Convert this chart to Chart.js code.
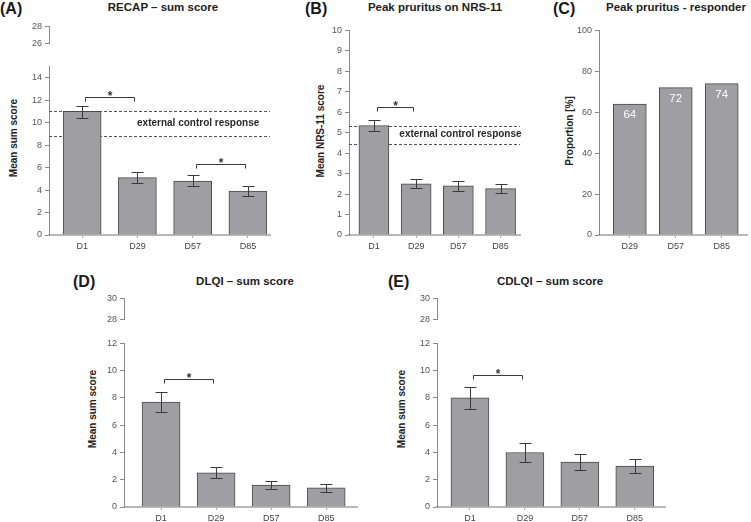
<!DOCTYPE html>
<html>
<head>
<meta charset="utf-8">
<script src="https://cdn.jsdelivr.net/npm/chart.js@4"></script>
<style>
  body { margin: 0; background: #fff; font-family: "Liberation Sans", Arial, sans-serif; }
  #page { position: relative; width: 751px; height: 522px; overflow: hidden; }
  canvas { position: absolute; }
  .tag { position: absolute; font-weight: bold; font-size: 16px; line-height: 18px; color: #1a1a1a; }
  .head { position: absolute; font-weight: bold; font-size: 11.5px; line-height: 14px; color: #222; white-space: nowrap; transform: translateX(-50%); }
  .ytitle { position: absolute; font-weight: bold; font-size: 10px; line-height: 12px; color: #222; white-space: nowrap; transform: translate(-50%, -50%) rotate(-90deg); }
</style>
</head>
<body>
<div id="page">
  <div class="tag" style="left:0px; top:0px">(A)</div>
  <div class="head" style="left:163px; top:0px">RECAP –  sum score</div>
  <div class="ytitle" style="left:14px; top:138px">Mean sum score</div>
  <canvas id="recapTop" width="60" height="34" style="left:0px; top:18px"></canvas>
  <canvas id="recap" width="274" height="197" style="left:0px; top:58px"></canvas>

  <div class="tag" style="left:305px; top:0px">(B)</div>
  <div class="head" style="left:435px; top:0px">Peak pruritus on NRS-11</div>
  <div class="ytitle" style="left:321px; top:131px">Mean NRS-11 score</div>
  <canvas id="nrs" width="224" height="233" style="left:300px; top:22px"></canvas>

  <div class="tag" style="left:553px; top:0px">(C)</div>
  <div class="head" style="left:676px; top:0px">Peak pruritus - responder</div>
  <div class="ytitle" style="left:570px; top:131px">Proportion [%]</div>
  <canvas id="resp" width="201" height="233" style="left:550px; top:22px"></canvas>

  <div class="tag" style="left:73px; top:273px">(D)</div>
  <div class="head" style="left:245px; top:274px">DLQI – sum score</div>
  <div class="ytitle" style="left:93px; top:409px">Mean sum score</div>
  <canvas id="dlqiTop" width="60" height="38" style="left:75px; top:290px"></canvas>
  <canvas id="dlqi" width="286" height="192" style="left:75px; top:335px"></canvas>

  <div class="tag" style="left:388px; top:273px">(E)</div>
  <div class="head" style="left:550px; top:274px">CDLQI – sum score</div>
  <div class="ytitle" style="left:402px; top:409px">Mean sum score</div>
  <canvas id="cdlqiTop" width="60" height="38" style="left:388px; top:290px"></canvas>
  <canvas id="cdlqi" width="281" height="192" style="left:388px; top:335px"></canvas>
</div>
<script>
// visits
const days = ["D1", "D29", "D57", "D85"];
const responderDays = ["D29", "D57", "D85"];

// (A) RECAP sum score, mean with error range
const recapMean = [11.0, 5.1, 4.8, 3.9];
const recapLow = [10.4, 4.6, 4.35, 3.5];
const recapHigh = [11.5, 5.6, 5.3, 4.35];
const recapControl = [8.8, 11.0];
const recapSig = [[0, 1, 12.3], [2, 3, 6.3]];

// (B) peak pruritus NRS-11
const nrsMean = [5.35, 2.5, 2.4, 2.27];
const nrsLow = [5.1, 2.28, 2.15, 2.05];
const nrsHigh = [5.6, 2.72, 2.65, 2.5];
const nrsControl = [4.45, 5.35];
const nrsSig = [[0, 1, 6.25]];

// (C) responder proportion [%]
const responderPct = [64, 72, 74];

// (D) DLQI
const dlqiMean = [7.7, 2.5, 1.6, 1.4];
const dlqiLow = [7.0, 2.1, 1.3, 1.1];
const dlqiHigh = [8.4, 2.9, 1.9, 1.7];
const dlqiSig = [[0, 1, 9.4]];

// (E) CDLQI
const cdlqiMean = [8.0, 4.0, 3.3, 3.0];
const cdlqiLow = [7.2, 3.3, 2.7, 2.5];
const cdlqiHigh = [8.8, 4.7, 3.9, 3.5];
const cdlqiSig = [[0, 1, 9.7]];

const noteText = "external control response";

Chart.defaults.font.family = "'Liberation Sans', Arial, sans-serif";
Chart.defaults.animation = false;

// error bars, brackets, dashed control lines, notes
const extras = {
  id: "extras",
  beforeDatasetsDraw(chart, args, o) {
    if (!o.control) return;
    const { ctx, chartArea: a } = chart;
    const y = chart.scales.y;
    ctx.save();
    ctx.strokeStyle = "#555";
    ctx.lineWidth = 1;
    ctx.setLineDash([3, 2]);
    o.control.forEach(v => {
      const py = Math.round(y.getPixelForValue(v)) + 0.5;
      ctx.beginPath();
      ctx.moveTo(a.left, py);
      ctx.lineTo(a.right, py);
      ctx.stroke();
    });
    ctx.restore();
  },
  afterDatasetsDraw(chart, args, o) {
    const { ctx } = chart;
    const x = chart.scales.x, y = chart.scales.y;
    ctx.save();
    ctx.strokeStyle = "#3a3a3a";
    ctx.lineWidth = 1;
    if (o.low) {
      o.low.forEach((lo, i) => {
        const px = Math.round(x.getPixelForValue(i)) + 0.5;
        const y1 = Math.round(y.getPixelForValue(lo)) + 0.5;
        const y2 = Math.round(y.getPixelForValue(o.high[i])) + 0.5;
        ctx.beginPath();
        ctx.moveTo(px, y1); ctx.lineTo(px, y2);
        ctx.moveTo(px - 6, y1); ctx.lineTo(px + 6, y1);
        ctx.moveTo(px - 6, y2); ctx.lineTo(px + 6, y2);
        ctx.stroke();
      });
    }
    (o.sig || []).forEach(([from, to, v]) => {
      const x1 = Math.round(x.getPixelForValue(from)) + 3.5;
      const x2 = Math.round(x.getPixelForValue(to)) - 2.5;
      const py = Math.round(y.getPixelForValue(v)) + 0.5;
      ctx.beginPath();
      ctx.moveTo(x1, py + 4); ctx.lineTo(x1, py); ctx.lineTo(x2, py); ctx.lineTo(x2, py + 4);
      ctx.stroke();
      ctx.fillStyle = "#333";
      ctx.font = "bold 12px 'Liberation Sans', Arial";
      ctx.textAlign = "center";
      ctx.textBaseline = "alphabetic";
      ctx.fillText("*", (x1 + x2) / 2, py + 2);
    });
    if (o.control) {
      ctx.fillStyle = "#2a2a2a";
      ctx.font = "bold 10px 'Liberation Sans', Arial";
      ctx.textAlign = "center";
      ctx.textBaseline = "middle";
      const mid = (o.control[0] + o.control[1]) / 2;
      ctx.fillText(noteText, x.getPixelForValue(o.noteAt), y.getPixelForValue(mid));
    }
    if (o.values) {
      ctx.fillStyle = "#fff";
      ctx.font = "11.5px 'Liberation Sans', Arial";
      ctx.textAlign = "center";
      ctx.textBaseline = "middle";
      o.values.forEach((v, i) => {
        ctx.fillText(String(v), x.getPixelForValue(i), y.getPixelForValue(v) + 11);
      });
    }
    ctx.restore();
  }
};

function yScale(min, max, step) {
  return {
    min, max,
    ticks: { stepSize: step, color: "#555", font: { size: 9 }, padding: 3 },
    grid: { drawOnChartArea: false, tickLength: 4, color: "#888" },
    border: { color: "#8a8a8a", width: 1 },
    afterBuildTicks: s => {
      s.ticks = s.ticks.filter(t => Math.abs(t.value / step - Math.round(t.value / step)) < 1e-6);
    },
    afterFit: s => { s.width = 49; }
  };
}

function xScale(labels, min, max) {
  return {
    type: "linear", min, max, offset: false,
    afterBuildTicks: s => { s.ticks = labels.map((_, i) => ({ value: i })); },
    ticks: { callback: v => labels[v], color: "#444", font: { size: 9 }, padding: 3, autoSkip: false, maxRotation: 0 },
    grid: { drawOnChartArea: false, tickLength: 3, color: "#aaa", offset: false },
    border: { color: "#b8b8b8", width: 2 },
    afterFit: s => { s.height = 20; }
  };
}

function barChart(id, labels, values, thickness, xMin, xMax, yMin, yMax, step, extra) {
  return new Chart(document.getElementById(id), {
    type: "bar",
    data: {
      datasets: [{
        data: values.map((v, i) => ({ x: i, y: v })),
        backgroundColor: "#9f9fa3",
        borderColor: "#4a4a4a",
        borderWidth: 1,
        barThickness: thickness
      }]
    },
    options: {
      responsive: false,
      layout: { padding: { top: 6, right: 4, left: 0, bottom: 0 } },
      plugins: { legend: { display: false }, tooltip: { enabled: false }, extras: extra },
      scales: { x: xScale(labels, xMin, xMax), y: yScale(yMin, yMax, step) }
    },
    plugins: [extras]
  });
}

// upper stub of a broken axis
function axisStub(id, yMin, yMax) {
  return new Chart(document.getElementById(id), {
    type: "bar",
    data: { datasets: [] },
    options: {
      responsive: false,
      layout: { padding: { top: 6, right: 4, left: 0, bottom: 4 } },
      plugins: { legend: { display: false }, tooltip: { enabled: false } },
      scales: { x: { type: "linear", display: false }, y: yScale(yMin, yMax, 2) }
    }
  });
}

axisStub("recapTop", 26, 28);
barChart("recap", days, recapMean, 38, -0.6, 3.4, 0, 15, 2,
  { low: recapLow, high: recapHigh, control: recapControl, noteAt: 2.1, sig: recapSig });

barChart("nrs", days, nrsMean, 30, -0.59, 3.46, 0, 10, 1,
  { low: nrsLow, high: nrsHigh, control: nrsControl, noteAt: 2.05, sig: nrsSig });

barChart("resp", responderDays, responderPct, 33, -0.67, 2.55, 0, 100, 20,
  { values: responderPct });

axisStub("dlqiTop", 28, 30);
barChart("dlqi", days, dlqiMean, 38, -0.673, 3.56, 0, 12, 2,
  { low: dlqiLow, high: dlqiHigh, sig: dlqiSig });

axisStub("cdlqiTop", 28, 30);
barChart("cdlqi", days, cdlqiMean, 38, -0.6, 3.55, 0, 12, 2,
  { low: cdlqiLow, high: cdlqiHigh, sig: cdlqiSig });
</script>
</body>
</html>
